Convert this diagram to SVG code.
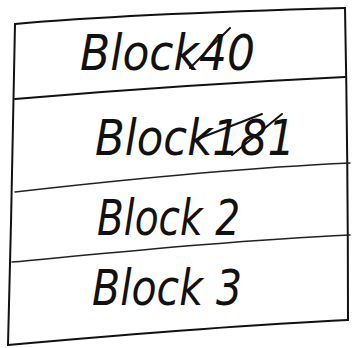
<svg xmlns="http://www.w3.org/2000/svg" width="355" height="348" viewBox="0 0 355 348">
<style>
.ln{fill:none;stroke:#111;stroke-width:2;stroke-linecap:round;stroke-linejoin:round}
.dv{fill:none;stroke:#222;stroke-width:1.5;stroke-linecap:round}
.t{font-family:"DejaVu Sans","Liberation Sans",sans-serif;font-style:italic;font-size:50px;fill:#111;font-weight:300}
.x{fill:none;stroke:#111;stroke-width:2;stroke-linecap:round}
</style>
<rect width="355" height="348" fill="#fff"/>
<g id="frame">
<path class="ln" d="M15,24 C80,18 200,12 345,8"/>
<path class="ln" d="M15,24 C13,120 11,240 8,345"/>
<path class="ln" d="M345,8 C347,110 348,220 348,320"/>
<path class="ln" d="M8,345 C120,335 240,325 348,320"/>
</g>
<g id="dividers">
<path class="ln" d="M15,99 C120,90 240,82 345,77"/>
<path class="dv" d="M15,192 C120,180 240,168 350,163"/>
<path class="dv" d="M12,262 C120,252 240,240 350,235"/>
</g>
<g id="block0">
<text class="t" x="80" y="70" textLength="175" lengthAdjust="spacingAndGlyphs">Block40</text>
<path class="x" d="M190,68 L230,28"/>
</g>
<g id="block1">
<text class="t" x="95" y="155" font-size="58" textLength="200" lengthAdjust="spacingAndGlyphs">Block181</text>
<path class="x" d="M195,140 L262,114"/>
<path class="x" d="M232,155 L282,114"/>
</g>
<g id="block2">
<text class="t" x="97" y="235" textLength="143" lengthAdjust="spacingAndGlyphs">Block 2</text>
</g>
<g id="block3">
<text class="t" x="92" y="305" textLength="150" lengthAdjust="spacingAndGlyphs">Block 3</text>
</g>
</svg>
